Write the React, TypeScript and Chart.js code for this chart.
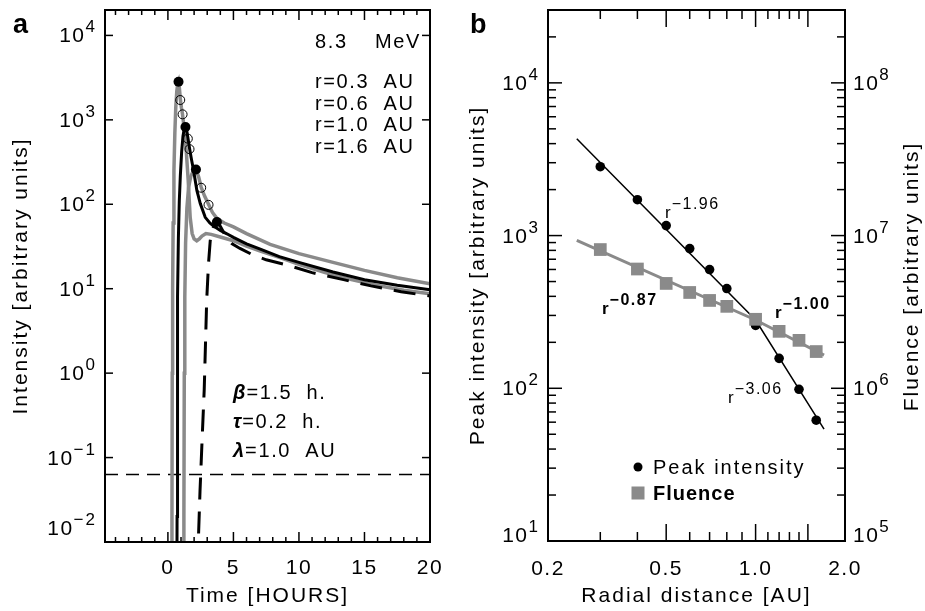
import React, { useEffect, useRef } from "react";
import { Chart, registerables } from "chart.js";

Chart.register(...registerables);

const GRAY = "#8a8a8a";
const FONT = '"Liberation Sans", Arial, Helvetica, sans-serif';

// ---------------- Panel a : time profiles ----------------
const timeMin = -4.8;
const timeMax = 20;
const intensityMin = 0.01;
const intensityMax = 2e4;
const timeMajorTicks = [0, 5, 10, 15, 20];
const intensityExponents = [-2, -1, 0, 1, 2, 3, 4];
const energyMeV = "8.3";
const betaHours = "1.5";
const tauHours = "0.2";
const lambdaAU = "1.0";
const backgroundLevel = 0.063;

const timeR03 = [0.29, 0.31, 0.33, 0.36, 0.4, 0.46, 0.53, 0.6, 0.68, 0.75, 0.81, 0.88, 0.95, 1.03, 1.11, 1.24, 1.4, 1.55, 1.7, 1.85, 2.0, 2.2, 2.4, 2.6, 2.9, 3.3, 4.0, 5.0, 6.0, 7.0, 8.5, 10, 12, 14, 16, 18, 20];
const intensityR03 = [0.002, 0.02, 1, 10, 60, 250, 700, 1400, 2200, 2650, 2830, 2350, 1740, 1400, 1170, 810, 432, 190, 70, 45, 39, 37, 39, 42, 45, 44, 41, 37, 32, 28, 23.5, 19.5, 15.5, 12.8, 10.9, 9.6, 8.7];

const timeR06 = [0.68, 0.7, 0.72, 0.75, 0.8, 0.87, 0.95, 1.05, 1.15, 1.25, 1.34, 1.43, 1.52, 1.65, 1.8, 1.96, 2.21, 2.47, 2.85, 3.2, 3.46, 4.0, 4.5, 5.0, 6.0, 7.05, 8.5, 10, 12.6, 15, 17.5, 20];
const intensityR06 = [0.002, 0.02, 1, 8, 40, 110, 220, 420, 640, 790, 832, 760, 622, 461, 340, 251, 146, 102, 70, 60, 55.7, 49, 44.7, 40.5, 34, 29.4, 24, 20.5, 15.8, 12.8, 11, 9.7];

const timeR10 = [1.2, 1.22, 1.25, 1.29, 1.35, 1.45, 1.58, 1.75, 1.95, 2.14, 2.35, 2.54, 2.8, 3.1, 3.4, 3.74, 4.3, 5.0, 6.0, 7.8, 10, 12.6, 15, 17.5, 20];
const intensityR10 = [0.002, 0.02, 1, 8, 35, 90, 160, 215, 250, 258, 210, 159, 125, 100, 80, 68, 60, 54, 45, 33.5, 26, 20.5, 16.5, 13.5, 11.4];

const timeR16 = [2.28, 2.32, 2.45, 2.6, 2.77, 2.96, 3.1, 3.23, 3.4, 3.55, 3.74, 4.0, 4.3, 4.6, 4.9, 5.5, 6.4, 7.5, 9.2, 11, 13.4, 15.5, 17.8, 20];
const intensityR16 = [0.005, 0.01, 0.04, 0.15, 0.63, 7.3, 20, 37, 50, 58, 62.7, 55, 45, 38, 34, 30, 25.5, 22, 18.9, 15.5, 12.8, 10.8, 9.2, 8.2];

// ---------------- Panel b : radial dependence ----------------
const radii = [0.3, 0.4, 0.5, 0.6, 0.7, 0.8, 1.0, 1.2, 1.4, 1.6];
const peakTime = [0.81, 0.94, 1.12, 1.34, 1.52, 1.65, 2.14, 2.54, 3.1, 3.74];
const peakIntensity = [2825, 1718, 1162, 822, 599, 450, 258, 157, 98.5, 61.8];
const fluence = [8.1e6, 6.04e6, 4.86e6, 4.24e6, 3.76e6, 3.44e6, 2.83e6, 2.36e6, 2.06e6, 1.74e6];
const curveRadii = [0.3, 0.6, 1.0, 1.6];

const peakFitR = [0.25, 1.0, 1.7];
const peakFitV = [4300, 280, 54];
const peakFitSlopes = [-1.96, -3.06];
const fluenceFitR = [0.25, 1.0, 1.7];
const fluenceFitV = [9.3e6, 2.8e6, 1.65e6];
const fluenceFitSlopes = [-0.87, -1.0];

const radialMin = 0.2;
const radialMax = 2.0;
const radialTicks = [0.2, 0.5, 1.0, 2.0];
const radialTickLabels = ["0.2", "0.5", "1.0", "2.0"];
const radialLongTicks = [0.5, 1.0, 1.5];
const radialMinorTicks = [0.3, 0.4, 0.6, 0.7, 0.8, 0.9, 1.1, 1.2, 1.3, 1.4];
const peakMin = 10;
const peakMax = 3e4;
const fluenceMin = 1e5;
const fluenceMax = 3e8;
const peakExponents = [1, 2, 3, 4];
const fluenceExponents = [5, 6, 7, 8];

// ---------------- helpers ----------------
function setFont(ctx: any, size: number, o: { bold?: boolean; italic?: boolean; ls?: number } = {}) {
  ctx.font = `${o.italic ? "italic " : ""}${o.bold ? "bold " : ""}${size}px ${FONT}`;
  try {
    ctx.letterSpacing = (o.ls ?? 1.5) + "px";
  } catch (e) {}
}
function seg(ctx: any, x1: number, y1: number, x2: number, y2: number) {
  ctx.beginPath();
  ctx.moveTo(x1, y1);
  ctx.lineTo(x2, y2);
  ctx.stroke();
}
function supText(exp: number) {
  return exp < 0 ? "\u2212" + Math.abs(exp) : String(exp);
}
function pow10(ctx: any, exp: number, x: number, y: number, align: "left" | "right") {
  const base = "10";
  const sup = supText(exp);
  setFont(ctx, 21, { ls: 1.5 });
  const wb = ctx.measureText(base).width;
  setFont(ctx, 17, { ls: 2 });
  const ws = ctx.measureText(sup).width;
  const x0 = align === "right" ? x - wb - ws : x;
  ctx.textAlign = "left";
  setFont(ctx, 21, { ls: 1.5 });
  ctx.fillText(base, x0, y);
  setFont(ctx, 17, { ls: 2 });
  ctx.fillText(sup, x0 + wb, y - 10);
}
function rotated(ctx: any, text: string, x: number, y: number) {
  ctx.save();
  ctx.translate(x, y);
  ctx.rotate(-Math.PI / 2);
  ctx.textAlign = "center";
  ctx.textBaseline = "middle";
  ctx.fillText(text, 0, 0);
  ctx.restore();
}
function rPow(ctx: any, x: number, y: number, slope: number, bold: boolean) {
  setFont(ctx, 17, { bold, ls: 1 });
  ctx.textAlign = "left";
  ctx.fillText("r", x, y);
  const w = ctx.measureText("r").width;
  setFont(ctx, 16, { bold, ls: 1.5 });
  ctx.fillText("\u2212" + Math.abs(slope).toFixed(2), x + w, y - 9);
}
const pts = (xs: number[], ys: number[]) => xs.map((x, i) => ({ x, y: ys[i] }));
const curve = (data: any[], color: string, width: number, extra: any = {}) => ({
  data,
  borderColor: color,
  borderWidth: width,
  pointRadius: 0,
  pointHoverRadius: 0,
  tension: 0,
  fill: false,
  ...extra,
});

// ---------------- panel a frame plugin ----------------
const panelAPlugin = {
  id: "panelAFrame",
  afterDraw(chart: any) {
    const ctx = chart.ctx;
    const { left, right, top, bottom } = chart.chartArea;
    const xs = chart.scales.x;
    const ys = chart.scales.y;
    ctx.save();
    ctx.strokeStyle = "#000";
    ctx.fillStyle = "#000";
    ctx.lineWidth = 1.5;
    for (let t = Math.ceil(timeMin); t <= timeMax; t++) {
      const px = xs.getPixelForValue(t);
      const len = timeMajorTicks.includes(t) ? 10 : 5;
      seg(ctx, px, bottom, px, bottom - len);
      seg(ctx, px, top, px, top + len);
    }
    for (const e of intensityExponents) {
      const py = ys.getPixelForValue(Math.pow(10, e));
      seg(ctx, left, py, left + 8, py);
      seg(ctx, right, py, right - 8, py);
    }
    ctx.lineWidth = 2;
    ctx.strokeRect(left, top, right - left, bottom - top);

    ctx.textBaseline = "alphabetic";
    setFont(ctx, 21, { ls: 1.5 });
    ctx.textAlign = "center";
    for (const t of timeMajorTicks) ctx.fillText(String(t), xs.getPixelForValue(t), 574);
    for (const e of intensityExponents) {
      const py = ys.getPixelForValue(Math.pow(10, e));
      const base = e === intensityExponents[0] ? py - 7 : py + 7;
      pow10(ctx, e, left - 8, base, "right");
    }
    setFont(ctx, 21, { ls: 2 });
    ctx.textAlign = "center";
    ctx.fillText("Time [HOURS]", (left + right) / 2, 602);
    rotated(ctx, "Intensity [arbitrary units]", 21, (top + bottom) / 2);

    setFont(ctx, 27, { bold: true, ls: 0 });
    ctx.textAlign = "left";
    ctx.textBaseline = "alphabetic";
    ctx.fillText("a", 13, 33);

    setFont(ctx, 20, { ls: 1.6 });
    ctx.fillText(energyMeV, 315, 48);
    ctx.fillText("MeV", 375, 48);
    const rBase = [88, 109.5, 131, 152.5];
    curveRadii.forEach((r, i) => {
      ctx.fillText(`r=${r.toFixed(1)}  AU`, 315, rBase[i]);
    });
    const params = [
      ["\u03b2", `=${betaHours}  h.`, 399],
      ["\u03c4", `=${tauHours}  h.`, 428],
      ["\u03bb", `=${lambdaAU}  AU`, 457],
    ];
    for (const [g, rest, yb] of params as any) {
      setFont(ctx, 20, { bold: true, italic: true, ls: 1 });
      ctx.fillText(g, 233, yb);
      const w = ctx.measureText(g).width;
      setFont(ctx, 20, { ls: 1.6 });
      ctx.fillText(rest, 233 + w, yb);
    }
    ctx.restore();
  },
};

// ---------------- panel b frame plugin ----------------
const panelBPlugin = {
  id: "panelBFrame",
  afterDraw(chart: any) {
    const ctx = chart.ctx;
    const { left, right, top, bottom } = chart.chartArea;
    const xs = chart.scales.x;
    const ys = chart.scales.y;
    const y2 = chart.scales.y2;
    ctx.save();
    ctx.strokeStyle = "#000";
    ctx.fillStyle = "#000";
    ctx.lineWidth = 1.5;
    for (const r of radialMinorTicks) {
      const px = xs.getPixelForValue(r);
      seg(ctx, px, bottom, px, bottom - 9);
      seg(ctx, px, top, px, top + 9);
    }
    for (const r of radialLongTicks) {
      const px = xs.getPixelForValue(r);
      seg(ctx, px, bottom, px, bottom - 17);
      seg(ctx, px, top, px, top + 17);
    }
    for (const e of peakExponents) {
      for (let m = 1; m <= 9; m++) {
        const v = m * Math.pow(10, e);
        if (v < peakMin || v > peakMax) continue;
        const py = ys.getPixelForValue(v);
        const len = m === 1 ? 14 : 8;
        seg(ctx, left, py, left + len, py);
      }
    }
    for (const e of fluenceExponents) {
      for (let m = 1; m <= 9; m++) {
        const v = m * Math.pow(10, e);
        if (v < fluenceMin || v > fluenceMax) continue;
        const py = y2.getPixelForValue(v);
        const len = m === 1 ? 14 : 8;
        seg(ctx, right, py, right - len, py);
      }
    }
    ctx.lineWidth = 2;
    ctx.strokeRect(left, top, right - left, bottom - top);

    ctx.textBaseline = "alphabetic";
    setFont(ctx, 21, { ls: 1.5 });
    ctx.textAlign = "center";
    radialTicks.forEach((r, i) => ctx.fillText(radialTickLabels[i], xs.getPixelForValue(r), 575));
    for (const e of peakExponents) {
      const py = ys.getPixelForValue(Math.pow(10, e));
      const base = e === peakExponents[0] ? py + 1 : py + 7;
      pow10(ctx, e, left - 8, base, "right");
    }
    for (const e of fluenceExponents) {
      const py = y2.getPixelForValue(Math.pow(10, e));
      const base = e === fluenceExponents[0] ? py + 1 : py + 7;
      pow10(ctx, e, right + 8, base, "left");
    }
    setFont(ctx, 21, { ls: 2 });
    ctx.textAlign = "center";
    ctx.fillText("Radial distance [AU]", (left + right) / 2, 602);
    rotated(ctx, "Peak intensity [arbitrary units]", 478, (top + bottom) / 2);
    rotated(ctx, "Fluence [arbitrary units]", 912, (top + bottom) / 2 + 1);

    setFont(ctx, 27, { bold: true, ls: 0 });
    ctx.textAlign = "left";
    ctx.textBaseline = "alphabetic";
    ctx.fillText("b", 470, 33);

    rPow(ctx, 665, 218, peakFitSlopes[0], false);
    rPow(ctx, 728, 403, peakFitSlopes[1], false);
    rPow(ctx, 602, 314, fluenceFitSlopes[0], true);
    rPow(ctx, 775, 318, fluenceFitSlopes[1], true);

    // legend
    ctx.beginPath();
    ctx.arc(638, 467, 4.5, 0, Math.PI * 2);
    ctx.fill();
    setFont(ctx, 20, { ls: 2 });
    ctx.fillText("Peak intensity", 653, 474);
    ctx.fillStyle = GRAY;
    ctx.fillRect(631.5, 486.5, 13, 13);
    ctx.fillStyle = "#000";
    setFont(ctx, 20, { bold: true, ls: 1 });
    ctx.fillText("Fluence", 653, 500);
    ctx.restore();
  },
};

function buildPanelA(): any {
  const filled: any[] = [];
  const open: any[] = [];
  radii.forEach((r, i) => {
    const p = { x: peakTime[i], y: peakIntensity[i] };
    (curveRadii.includes(r) ? filled : open).push(p);
  });
  return {
    type: "line",
    data: {
      datasets: [
        { data: filled, showLine: false, pointRadius: 5, pointHoverRadius: 5, pointBackgroundColor: "#000", pointBorderColor: "#000", pointBorderWidth: 0, order: 0 },
        { data: open, showLine: false, pointRadius: 4.5, pointHoverRadius: 4.5, pointBackgroundColor: "rgba(0,0,0,0)", pointBorderColor: "#000", pointBorderWidth: 1, order: 0 },
        curve(pts(timeR16, intensityR16), "#000", 3, { borderDash: [22, 12], order: 1 }),
        curve(pts(timeR06, intensityR06), "#000", 3, { order: 2 }),
        curve(pts(timeR03, intensityR03), GRAY, 3.5, { order: 3 }),
        curve(pts(timeR10, intensityR10), GRAY, 3.5, { order: 3 }),
        curve([{ x: timeMin, y: backgroundLevel }, { x: timeMax, y: backgroundLevel }], "#000", 1.5, { borderDash: [13, 8], order: 4 }),
      ],
    },
    options: {
      responsive: false,
      animation: false,
      devicePixelRatio: 1,
      events: [],
      layout: { padding: { left: 105, right: 495, top: 10, bottom: 69 } },
      plugins: { legend: { display: false }, tooltip: { enabled: false } },
      scales: {
        x: { type: "linear", min: timeMin, max: timeMax, display: false },
        y: { type: "logarithmic", min: intensityMin, max: intensityMax, display: false },
      },
    },
    plugins: [panelAPlugin],
  };
}

function buildPanelB(): any {
  return {
    type: "line",
    data: {
      datasets: [
        { data: pts(radii, fluence), yAxisID: "y2", showLine: false, pointStyle: "rect", pointRadius: 9, pointHoverRadius: 9, pointBackgroundColor: GRAY, pointBorderColor: GRAY, pointBorderWidth: 0, order: 0 },
        { data: pts(radii, peakIntensity), yAxisID: "y", showLine: false, pointRadius: 4.8, pointHoverRadius: 4.8, pointBackgroundColor: "#000", pointBorderColor: "#000", pointBorderWidth: 0, order: 1 },
        curve(pts(peakFitR, peakFitV), "#000", 1.5, { yAxisID: "y", order: 2 }),
        curve(pts(fluenceFitR, fluenceFitV), GRAY, 3, { yAxisID: "y2", order: 3 }),
      ],
    },
    options: {
      responsive: false,
      animation: false,
      devicePixelRatio: 1,
      events: [],
      layout: { padding: { left: 548, right: 80, top: 10, bottom: 70 } },
      plugins: { legend: { display: false }, tooltip: { enabled: false } },
      scales: {
        x: { type: "logarithmic", min: radialMin, max: radialMax, display: false },
        y: { type: "logarithmic", position: "left", min: peakMin, max: peakMax, display: false },
        y2: { type: "logarithmic", position: "right", min: fluenceMin, max: fluenceMax, display: false },
      },
    },
    plugins: [panelBPlugin],
  };
}

export default function App() {
  const aRef = useRef<HTMLCanvasElement>(null);
  const bRef = useRef<HTMLCanvasElement>(null);
  useEffect(() => {
    const ca = new Chart(aRef.current as HTMLCanvasElement, buildPanelA());
    const cb = new Chart(bRef.current as HTMLCanvasElement, buildPanelB());
    return () => {
      ca.destroy();
      cb.destroy();
    };
  }, []);
  const cs: any = { position: "absolute", left: 0, top: 0, width: 925, height: 611 };
  return (
    <div style={{ position: "fixed", left: 0, top: 0, width: 925, height: 611, background: "#fff" }}>
      <canvas ref={aRef} width={925} height={611} style={cs} />
      <canvas ref={bRef} width={925} height={611} style={cs} />
    </div>
  );
}
